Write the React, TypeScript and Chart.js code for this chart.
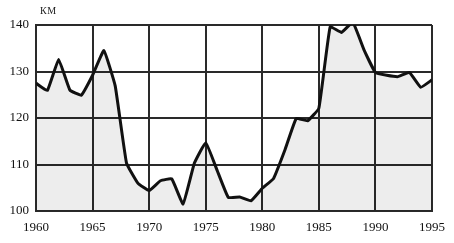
import React, { useEffect, useRef } from "react";
import { Chart, registerables } from "chart.js";

Chart.register(...registerables);

const years: number[] = [
  1960, 1961, 1962, 1963, 1964, 1965, 1966, 1967, 1968, 1969,
  1970, 1971, 1972, 1973, 1974, 1975, 1976, 1977, 1978, 1979,
  1980, 1981, 1982, 1983, 1984, 1985, 1986, 1987, 1988, 1989,
  1990, 1991, 1992, 1993, 1994, 1995,
];
const values: number[] = [
  127.5, 125.9, 132.6, 126.0, 124.9, 129.2, 134.5, 126.9, 110.3, 106.0,
  104.4, 106.5, 106.9, 101.5, 110.3, 114.7, 108.8, 102.9, 103.0, 102.2,
  104.9, 107.0, 113.1, 119.9, 119.4, 122.1, 139.6, 138.4, 140.6, 134.6,
  129.8, 129.2, 128.9, 129.8, 126.6, 128.2,
];
const unitLabel = "КМ";
const xMin = 1960;
const xMax = 1995;
const yMin = 100;
const yMax = 140;

export default function App() {
  const ref = useRef<HTMLCanvasElement | null>(null);
  useEffect(() => {
    document.body.style.margin = "0";
    const ctx = ref.current!.getContext("2d")!;
    const font = { family: "'Liberation Serif', 'DejaVu Serif', serif", size: 13 };
    const chart = new Chart(ctx, {
      type: "line",
      data: {
        datasets: [
          {
            data: years.map((y, i) => ({ x: y, y: values[i] })),
            borderColor: "#111111",
            borderWidth: 3,
            backgroundColor: "rgba(0,0,0,0.07)",
            fill: "start",
            pointRadius: 0,
            tension: 0.1,
          },
        ],
      },
      options: {
        animation: false,
        responsive: false,
        maintainAspectRatio: false,
        layout: { padding: { top: 25, right: 22, left: 0, bottom: 0 } },
        plugins: { legend: { display: false }, tooltip: { enabled: false } },
        scales: {
          x: {
            type: "linear",
            min: xMin,
            max: xMax,
            ticks: { stepSize: 5, color: "#111", font, padding: 9, maxRotation: 0, callback: (v: any) => String(v) },
            grid: { color: "#2a2a2a", lineWidth: 2, drawTicks: false },
            border: { color: "#2a2a2a", width: 2 },
            afterFit: (s: any) => { s.height = 32; },
          },
          y: {
            min: yMin,
            max: yMax,
            ticks: { stepSize: 10, color: "#111", font, padding: 7 },
            grid: { color: "#2a2a2a", lineWidth: 2, drawTicks: false },
            border: { color: "#2a2a2a", width: 2 },
            afterFit: (s: any) => { s.width = 36; },
          },
        },
      },
    });
    return () => chart.destroy();
  }, []);
  return (
    <div style={{ position: "relative", width: 454, height: 243, background: "#fff" }}>
      <canvas ref={ref} width={454} height={243} style={{ display: "block" }} />
      <span
        style={{
          position: "absolute",
          left: 40,
          top: 5,
          fontFamily: "'Liberation Serif', serif",
          fontSize: 10,
          color: "#222",
          letterSpacing: 0.5,
        }}
      >
        {unitLabel}
      </span>
    </div>
  );
}
